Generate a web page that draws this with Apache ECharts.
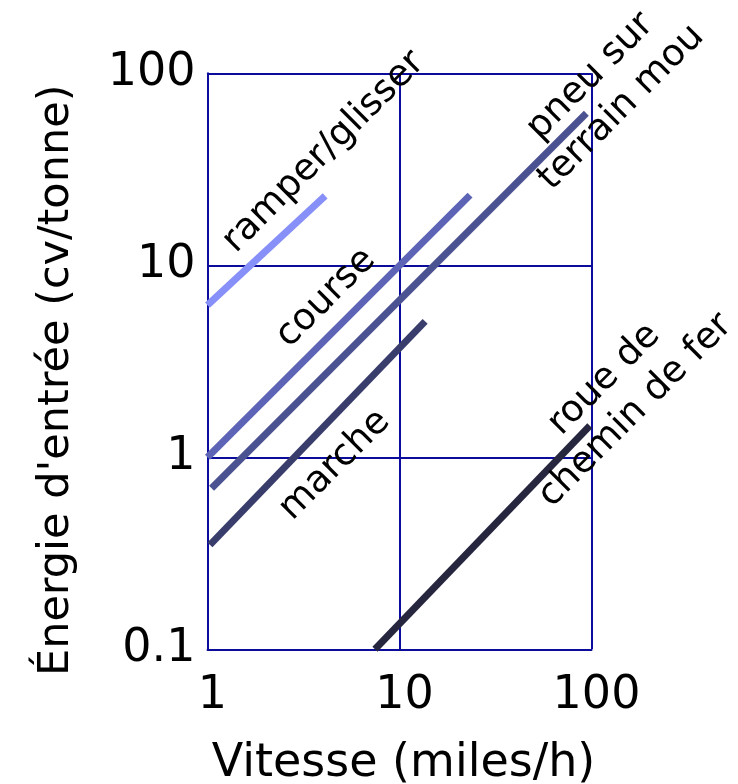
<!DOCTYPE html>
<html>
<head>
<meta charset="utf-8">
<script src="https://cdn.jsdelivr.net/npm/echarts@6/dist/echarts.min.js"></script>
<style>
html,body{margin:0;padding:0;background:#fff;}
#chart{width:738px;height:784px;}
</style>
</head>
<body>
<div id="chart"></div>
<script>
// Data (log-log)
var xTickLabels = ['1', '10', '100'];
var yTickLabels = ['0.1', '1', '10', '100'];

var seriesNames = ['ramper/glisser', 'course', 'pneu sur terrain mou', 'marche', 'roue de chemin de fer'];
var ramperGlisser = [[1, 6.2], [4.1, 23]];
var course = [[1, 1.0], [23.3, 23.2]];
var pneuTerrainMou = [[1.05, 0.69], [94, 62]];
var marche = [[1.03, 0.35], [13.6, 5.1]];
var roueCheminFer = [[7.45, 0.1], [98, 1.46]];

var labelTexts = ['ramper/glisser', 'course', 'marche', 'pneu sur\nterrain mou', 'roue de\nchemin de fer'];
var labelPositions = [[4.04, 38.9], [4.14, 6.75], [4.61, 0.91], [119, 79.8], [140.8, 2.11]];

var colors = ['#878ff8', '#5d64b6', '#4b5292', '#393d6b', '#26273f'];

var font = 'DejaVu Sans';
var gridColor = '#0c0c9c';

var chart = echarts.init(document.getElementById('chart'));

function lineSeries(name, data, color) {
  return {
    name: name,
    type: 'line',
    data: data,
    showSymbol: false,
    symbol: 'none',
    silent: true,
    clip: false,
    lineStyle: {color: color, width: 7, cap: 'butt'},
    z: 3
  };
}

var labelData = labelTexts.map(function (t, i) {
  return {value: labelPositions[i], label: {formatter: t}};
});

var option = {
  animation: false,
  backgroundColor: '#ffffff',
  grid: {left: 207.5, right: 146.5, top: 73.3, bottom: 134.7, containLabel: false, outerBoundsMode: 'none'},
  xAxis: {
    type: 'log',
    logBase: 10,
    min: 1,
    max: 100,
    name: 'Vitesse (miles/h)',
    nameLocation: 'middle',
    nameGap: 92,
    nameTextStyle: {fontFamily: font, fontSize: 46, color: '#000', padding: [0, 0, 0, 8]},
    axisLine: {show: true, lineStyle: {color: gridColor, width: 2}},
    axisTick: {show: false},
    axisLabel: {
      fontFamily: font, fontSize: 46, color: '#000', margin: 24,
      padding: [0, 0, 0, 10],
      formatter: function (v) {
        var i = Math.round(Math.log10(v));
        return xTickLabels[i] !== undefined ? xTickLabels[i] : '';
      }
    },
    splitLine: {show: true, lineStyle: {color: gridColor, width: 2}},
    minorTick: {show: false},
    minorSplitLine: {show: false}
  },
  yAxis: {
    type: 'log',
    logBase: 10,
    min: 0.1,
    max: 100,
    name: "Énergie d'entrée (cv/tonne)",
    nameLocation: 'middle',
    nameRotate: 90,
    nameGap: 129,
    nameTextStyle: {fontFamily: font, fontSize: 43, color: '#000', padding: [0, 38, 0, 0]},
    axisLine: {show: true, lineStyle: {color: gridColor, width: 2}},
    axisTick: {show: false},
    axisLabel: {
      fontFamily: font, fontSize: 46, color: '#000', margin: 12,
      formatter: function (v) {
        var i = Math.round(Math.log10(v)) + 1;
        return yTickLabels[i] !== undefined ? yTickLabels[i] : '';
      }
    },
    splitLine: {show: true, lineStyle: {color: gridColor, width: 2}}
  },
  series: [
    lineSeries(seriesNames[0], ramperGlisser, colors[0]),
    lineSeries(seriesNames[1], course, colors[1]),
    lineSeries(seriesNames[2], pneuTerrainMou, colors[2]),
    lineSeries(seriesNames[3], marche, colors[3]),
    lineSeries(seriesNames[4], roueCheminFer, colors[4]),
    {
      type: 'scatter',
      data: labelData,
      symbol: 'circle',
      symbolSize: 2,
      clip: false,
      silent: true,
      itemStyle: {color: 'rgba(0,0,0,0)'},
      label: {
        show: true,
        position: 'inside',
        rotate: 45,
        align: 'center',
        verticalAlign: 'middle',
        fontFamily: font,
        fontSize: 37,
        lineHeight: 44,
        color: '#000000',
        textBorderWidth: 0,
        textBorderColor: 'transparent',
        opacity: 1
      },
      labelLayout: {hideOverlap: false},
      z: 5
    }
  ]
};
chart.setOption(option);
</script>
</body>
</html>
